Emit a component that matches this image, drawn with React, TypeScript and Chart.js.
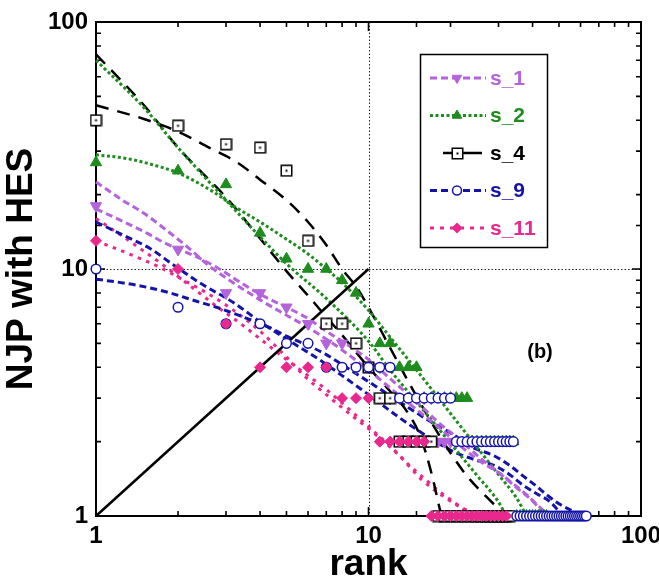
import React, { useEffect, useRef } from 'react';
import { Chart, registerables } from 'chart.js';

Chart.register(...registerables);

const FONT = '"Liberation Sans", Arial, Helvetica, sans-serif';

// ---------- axis / labels ----------
const X_TICK_LABELS = [1, 10, 100];
const Y_TICK_LABELS = [1, 10, 100];
const GUIDE_VALUES = [10];
const X_TITLE = 'rank';
const Y_TITLE = 'NJP with HES';
const PANEL_LABEL = '(b)';

const SERIES_NAMES = ['s_1', 's_2', 's_4', 's_9', 's_11'];
const PURPLE = '#b463dc';
const GREEN = '#1e8c1e';
const BLACK = '#000000';
const BLUE = '#1414a8';
const PINK = '#e8288c';

// ---------- measured points (value at rank = index + 1) ----------
const s1Values = [18, 12, 8, 8, 7, 6, 5, 5, 4, 4, 4, 3, 3, 3, 3, 3, 3, 2, 2, 2, 2, 2, 2, 2, 1, 1, 1, 1, 1, 1, 1, 1, 1];
const s2Values = [27, 25, 22, 14, 11, 10, 10, 9, 8, 6, 5, 5, 4, 4, 4, 3, 3, 3, 3, 3, 3, 3, 3,
  2, 2, 2, 2, 2, 2, 2, 2, 2, 2, 2, 1, 1, 1, 1, 1, 1, 1, 1, 1, 1, 1];
const s4Values = [40, 38, 32, 31, 25, 13, 6, 6, 5, 4, 3, 3, 2, 2, 2, 2, 2,
  1, 1, 1, 1, 1, 1, 1, 1, 1, 1, 1, 1, 1, 1, 1, 1];
const s9Values = [10, 7, 6, 6, 5, 5, 4, 4, 4, 4, 4, 4, 3, 3, 3, 3, 3, 3, 3, 3,
  2, 2, 2, 2, 2, 2, 2, 2, 2, 2, 2, 2, 2, 2,
  1, 1, 1, 1, 1, 1, 1, 1, 1, 1, 1, 1, 1, 1, 1, 1, 1, 1, 1, 1, 1, 1, 1, 1, 1, 1, 1, 1, 1];
const s11Values = [13, 10, 6, 4, 4, 4, 4, 3, 3, 3, 2, 2, 2, 2, 2, 2,
  1, 1, 1, 1, 1, 1, 1, 1, 1, 1, 1, 1, 1, 1, 1, 1];

// ---------- fitted curves (two per series) ----------
const s1FitAX = [1, 1.25, 1.5, 1.75, 2.2, 2.6, 3, 4, 5, 6, 7, 8, 10, 12, 15, 18, 22, 26, 30, 34, 38, 42, 46];
const s1FitAY = [22.5, 19, 16.8, 14.8, 12.1, 10.3, 9.2, 7.5, 6.5, 5.8, 5.2, 4.7, 3.9, 3.3, 2.7, 2.3, 1.9, 1.65, 1.5, 1.35, 1.22, 1.1, 1.0];
const s1FitBX = [1, 1.3, 1.55, 1.8, 2.3, 2.8, 3.4, 4, 5, 6, 7, 8, 10, 12, 15, 18, 22, 26, 30, 35, 40, 44];
const s1FitBY = [17.5, 15.3, 13.9, 12.7, 11.3, 10.1, 8.8, 7.9, 7.0, 6.3, 5.6, 5.1, 4.3, 3.6, 2.9, 2.4, 2.0, 1.7, 1.5, 1.3, 1.15, 1.02];

const s2FitAX = [1, 1.5, 2, 3, 4, 5, 7, 10, 12, 15, 20, 25, 30, 32];
const s2FitAY = [70, 45, 31, 19, 13.5, 10.5, 7.6, 5.1, 3.9, 2.9, 1.97, 1.46, 1.14, 1.0];
const s2FitBX = [1, 1.3, 1.7, 2, 2.7, 3.2, 4, 5, 6, 7, 8, 10, 12, 15, 20, 25, 30, 35, 38];
const s2FitBY = [29, 28, 26, 24.5, 20.5, 18, 15.5, 13.2, 11.5, 10, 8.8, 6.8, 5.3, 3.9, 2.6, 1.9, 1.47, 1.18, 1.0];

const s4FitAX = [1, 1.5, 2, 2.5, 3, 4, 5, 6, 7, 8, 10, 12, 14, 15.5, 17, 18.5];
const s4FitAY = [74, 46, 31, 24, 19.5, 13.3, 9.8, 7.8, 6.4, 5.4, 4.0, 3.2, 2.6, 2.1, 1.5, 1.0];
const s4FitBX = [1, 1.5, 2, 2.6, 3.3, 4, 5, 6, 7, 8, 9, 10, 12, 14, 17, 20, 23, 27, 32];
const s4FitBY = [46, 40.5, 36, 31, 27, 23, 19, 15.5, 12.5, 10, 8.5, 7, 4.8, 3.5, 2.4, 1.8, 1.45, 1.2, 1.0];

const s9FitAX = [1, 1.26, 1.58, 1.92, 2.4, 3.2, 4.1, 5.3, 6.6, 8, 10, 13, 17, 21, 25, 29, 33, 37, 42, 46, 51];
const s9FitAY = [15.5, 13.7, 12.1, 10.4, 8.8, 7.3, 6.0, 5.0, 4.3, 3.7, 3.1, 2.5, 2.05, 1.8, 1.68, 1.6, 1.47, 1.33, 1.22, 1.15, 1.02];
const s9FitBX = [1, 1.41, 1.87, 2.34, 2.77, 3.46, 4.33, 5, 6, 7, 8, 10, 13, 17, 21, 24, 29, 33, 37, 41, 45, 50, 55, 62];
const s9FitBY = [9.1, 8.6, 8.0, 7.4, 7.0, 6.4, 5.8, 5.35, 4.9, 4.5, 4.1, 3.5, 2.9, 2.4, 2.1, 1.9, 1.75, 1.6, 1.45, 1.33, 1.22, 1.12, 1.06, 1.0];

const s11FitAX = [1, 1.2, 1.5, 1.8, 2.2, 2.8, 3.4, 4.2, 5, 6, 7, 8.5, 10, 12, 14, 16, 18, 21, 24];
const s11FitAY = [16, 14, 11.8, 10.2, 8.6, 7, 6, 5, 4.3, 3.7, 3.25, 2.7, 2.3, 1.92, 1.62, 1.42, 1.27, 1.12, 1.0];
const s11FitBX = [1, 1.3, 1.7, 2.1, 2.6, 3.2, 4, 5, 5.8, 7, 8.5, 10.3, 13, 15.7, 19.5, 22, 26];
const s11FitBY = [13, 11.6, 10.2, 9, 7.9, 6.8, 5.6, 4.4, 3.7, 3.1, 2.6, 2.2, 1.75, 1.4, 1.17, 1.08, 1.0];

const diagX = [1, 10];
const diagY = [1, 10];

type Kind = 'triDown' | 'triUp' | 'squareDot' | 'circle' | 'diamond';

function makeSquareDot(): HTMLCanvasElement {
  const c = document.createElement('canvas');
  c.width = 13;
  c.height = 13;
  const g = c.getContext('2d')!;
  g.fillStyle = '#fff';
  g.fillRect(1, 1, 11, 11);
  g.strokeStyle = '#000';
  g.lineWidth = 1.5;
  g.strokeRect(1.25, 1.25, 10.5, 10.5);
  g.fillStyle = '#000';
  g.fillRect(5.5, 5.5, 2, 2);
  return c;
}

function drawMarker(ctx: CanvasRenderingContext2D, kind: Kind, x: number, y: number, color: string, img: HTMLCanvasElement) {
  ctx.save();
  ctx.setLineDash([]);
  ctx.fillStyle = color;
  ctx.strokeStyle = color;
  ctx.lineWidth = 1;
  const r = 5.5;
  if (kind === 'triDown' || kind === 'triUp') {
    const s = kind === 'triDown' ? 1 : -1;
    ctx.beginPath();
    ctx.moveTo(x, y + s * r);
    ctx.lineTo(x - r * 0.866, y - s * r / 2);
    ctx.lineTo(x + r * 0.866, y - s * r / 2);
    ctx.closePath();
    ctx.fill();
    ctx.stroke();
  } else if (kind === 'squareDot') {
    ctx.drawImage(img, Math.round(x - 6.5), Math.round(y - 6.5));
  } else if (kind === 'circle') {
    ctx.fillStyle = '#fff';
    ctx.lineWidth = 1.5;
    ctx.beginPath();
    ctx.arc(x, y, 4.5, 0, Math.PI * 2);
    ctx.fill();
    ctx.stroke();
  } else {
    ctx.beginPath();
    ctx.moveTo(x, y - r);
    ctx.lineTo(x + r, y);
    ctx.lineTo(x, y + r);
    ctx.lineTo(x - r, y);
    ctx.closePath();
    ctx.fill();
  }
  ctx.restore();
}

export default function App() {
  const ref = useRef<HTMLCanvasElement>(null);

  useEffect(() => {
    const canvas = ref.current;
    if (!canvas) return;
    const squareDot = makeSquareDot();

    const toPts = (vals: number[]) => vals.map((v, i) => ({ x: i + 1, y: v }));
    const toCurve = (xs: number[], ys: number[]) => xs.map((x, i) => ({ x, y: ys[i] }));

    const legendDefs: { name: string; color: string; kind: Kind; dash: number[]; width: number; x0: number; x1: number }[] = [
      { name: SERIES_NAMES[0], color: PURPLE, kind: 'triDown', dash: [7, 4], width: 3, x0: 430, x1: 486 },
      { name: SERIES_NAMES[1], color: GREEN, kind: 'triUp', dash: [3, 2.5], width: 3, x0: 430, x1: 486 },
      { name: SERIES_NAMES[2], color: BLACK, kind: 'squareDot', dash: [], width: 2.5, x0: 443, x1: 482 },
      { name: SERIES_NAMES[3], color: BLUE, kind: 'circle', dash: [7, 4], width: 3, x0: 430, x1: 486 },
      { name: SERIES_NAMES[4], color: PINK, kind: 'diamond', dash: [4, 6], width: 3, x0: 430, x1: 486 },
    ];

    const fit = (xs: number[], ys: number[], color: string, dash: number[], width: number) => ({
      data: toCurve(xs, ys),
      showLine: true,
      pointRadius: 0,
      borderColor: color,
      backgroundColor: color,
      borderWidth: width,
      borderDash: dash,
      borderCapStyle: 'butt',
      cubicInterpolationMode: 'monotone',
      fill: false,
      clip: false,
      order: 20,
    });

    const datasets: any[] = [
      { label: SERIES_NAMES[4], data: toPts(s11Values), showLine: false, pointStyle: 'rectRot', pointRadius: 5.5,
        backgroundColor: PINK, borderColor: PINK, pointBorderWidth: 1, clip: false, order: 1 },
      { label: SERIES_NAMES[3], data: toPts(s9Values), showLine: false, pointStyle: 'circle', pointRadius: 4.8,
        backgroundColor: '#ffffff', borderColor: BLUE, pointBorderWidth: 1.5, clip: false, order: 2 },
      { label: SERIES_NAMES[2], data: toPts(s4Values), showLine: false, pointStyle: squareDot, pointRadius: 6,
        clip: false, order: 3 },
      { label: SERIES_NAMES[1], data: toPts(s2Values), showLine: false, pointStyle: 'triangle', pointRadius: 6.5,
        backgroundColor: GREEN, borderColor: GREEN, pointBorderWidth: 1, clip: false, order: 4 },
      { label: SERIES_NAMES[0], data: toPts(s1Values), showLine: false, pointStyle: 'triangle', pointRotation: 180, pointRadius: 6.5,
        backgroundColor: PURPLE, borderColor: PURPLE, pointBorderWidth: 1, clip: false, order: 5 },
      { data: toCurve(diagX, diagY), showLine: true, pointRadius: 0, borderColor: BLACK, borderWidth: 2.5, clip: false, order: 10 },
      fit(s1FitAX, s1FitAY, PURPLE, [7, 4], 3),
      fit(s1FitBX, s1FitBY, PURPLE, [7, 4], 3),
      fit(s2FitAX, s2FitAY, GREEN, [3, 2.5], 3),
      fit(s2FitBX, s2FitBY, GREEN, [3, 2.5], 3),
      fit(s4FitAX, s4FitAY, BLACK, [13, 9], 2.5),
      fit(s4FitBX, s4FitBY, BLACK, [13, 9], 2.5),
      fit(s9FitAX, s9FitAY, BLUE, [7, 4], 3),
      fit(s9FitBX, s9FitBY, BLUE, [7, 4], 3),
      fit(s11FitAX, s11FitAY, PINK, [3.5, 5.5], 3),
      fit(s11FitBX, s11FitBY, PINK, [3.5, 5.5], 3),
    ];

    const isMajor = (v: number) => Math.abs(Math.log10(v) - Math.round(Math.log10(v))) < 1e-9;

    const framePlugin = {
      id: 'frameTicks',
      beforeDatasetsDraw(chart: any) {
        const { ctx, chartArea: a } = chart;
        const xs = chart.scales.x;
        const ys = chart.scales.y;
        ctx.save();
        ctx.strokeStyle = '#222';
        ctx.lineWidth = 1;
        ctx.setLineDash([1.5, 2]);
        for (const v of GUIDE_VALUES) {
          const px = Math.round(xs.getPixelForValue(v)) + 0.5;
          ctx.beginPath();
          ctx.moveTo(px, a.top);
          ctx.lineTo(px, a.bottom);
          ctx.stroke();
          const py = Math.round(ys.getPixelForValue(v)) + 0.5;
          ctx.beginPath();
          ctx.moveTo(a.left, py);
          ctx.lineTo(a.right, py);
          ctx.stroke();
        }
        ctx.setLineDash([]);
        ctx.strokeStyle = '#000';
        ctx.lineWidth = 2;
        ctx.strokeRect(a.left, a.top, a.right - a.left, a.bottom - a.top);
        ctx.lineWidth = 1.6;
        for (const t of xs.ticks) {
          const px = xs.getPixelForValue(t.value);
          const len = isMajor(t.value) ? 9 : 5;
          ctx.beginPath();
          ctx.moveTo(px, a.bottom);
          ctx.lineTo(px, a.bottom - len);
          ctx.moveTo(px, a.top);
          ctx.lineTo(px, a.top + len);
          ctx.stroke();
        }
        for (const t of ys.ticks) {
          const py = ys.getPixelForValue(t.value);
          const len = isMajor(t.value) ? 9 : 5;
          ctx.beginPath();
          ctx.moveTo(a.left, py);
          ctx.lineTo(a.left + len, py);
          ctx.moveTo(a.right, py);
          ctx.lineTo(a.right - len, py);
          ctx.stroke();
        }
        ctx.restore();
      },
      afterDraw(chart: any) {
        const { ctx } = chart;
        ctx.save();
        ctx.fillStyle = '#fff';
        ctx.fillRect(420, 54, 128, 194);
        ctx.strokeStyle = '#000';
        ctx.lineWidth = 1.5;
        ctx.strokeRect(420.5, 54.5, 127, 193);
        legendDefs.forEach((d, i) => {
          const y = 78 + i * 37.5;
          ctx.save();
          ctx.strokeStyle = d.color;
          ctx.lineWidth = d.width;
          ctx.setLineDash(d.dash);
          ctx.beginPath();
          ctx.moveTo(d.x0, y);
          ctx.lineTo(d.x1, y);
          ctx.stroke();
          ctx.restore();
          drawMarker(ctx, d.kind, 457, y, d.color, squareDot);
          ctx.fillStyle = d.color;
          ctx.font = `bold 21px ${FONT}`;
          ctx.textAlign = 'left';
          ctx.textBaseline = 'middle';
          ctx.fillText(d.name, 490, y + 1);
        });
        ctx.fillStyle = '#000';
        ctx.font = `bold 20px ${FONT}`;
        ctx.textAlign = 'center';
        ctx.textBaseline = 'middle';
        ctx.fillText(PANEL_LABEL, 540, 352);
        ctx.restore();
      },
    };

    const tickFont = { family: FONT, size: 24, weight: 'bold' as const };
    const titleFont = { family: FONT, size: 37, weight: 'bold' as const, lineHeight: 1 };

    const chart = new Chart(canvas, {
      type: 'scatter',
      data: { datasets },
      options: {
        responsive: false,
        animation: false,
        events: [],
        layout: { padding: { top: 22, right: 18, left: 0, bottom: 0 } },
        plugins: { legend: { display: false }, tooltip: { enabled: false } },
        scales: {
          x: {
            type: 'logarithmic',
            position: 'bottom',
            min: 1,
            max: 100,
            grid: { display: false, drawTicks: false },
            border: { display: false },
            ticks: {
              autoSkip: false,
              maxRotation: 0,
              padding: 6,
              color: '#000',
              font: tickFont,
              callback: (v: any) => (X_TICK_LABELS.includes(Number(v)) ? String(v) : ''),
            },
            title: { display: true, text: X_TITLE, color: '#000', font: titleFont, padding: { top: 0, bottom: -1 } },
            afterFit: (s: any) => { s.height = 66; s.paddingLeft = 0; s.paddingRight = 0; },
          },
          y: {
            type: 'logarithmic',
            position: 'left',
            min: 1,
            max: 100,
            grid: { display: false, drawTicks: false },
            border: { display: false },
            ticks: {
              autoSkip: false,
              padding: 8,
              color: '#000',
              font: tickFont,
              callback: (v: any) => (Y_TICK_LABELS.includes(Number(v)) ? String(v) : ''),
            },
            title: { display: true, text: Y_TITLE, color: '#000', font: titleFont, padding: { top: 3, bottom: 0 } },
            afterFit: (s: any) => { s.width = 96; s.paddingTop = 0; s.paddingBottom = 0; },
          },
        },
      } as any,
      plugins: [framePlugin],
    });

    return () => chart.destroy();
  }, []);

  return (
    <div style={{ position: 'fixed', left: 0, top: 0, width: 659, height: 582, background: '#fff' }}>
      <canvas ref={ref} width={659} height={582} style={{ display: 'block', width: 659, height: 582 }} />
    </div>
  );
}
